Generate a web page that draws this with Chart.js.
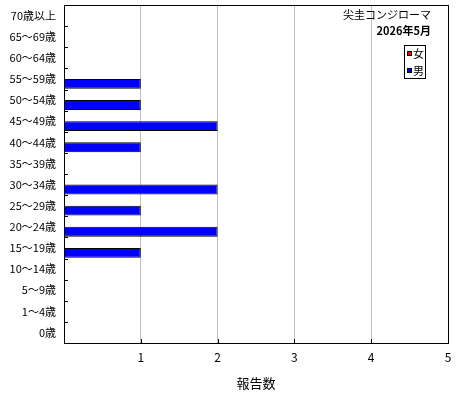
<!DOCTYPE html>
<html>
<head>
<meta charset="utf-8">
<script src="https://cdn.jsdelivr.net/npm/chart.js@4"></script>
<style>
  html, body { margin: 0; padding: 0; background: #fff; }
  #wrap { width: 460px; height: 400px; }
</style>
</head>
<body>
<div id="wrap"><canvas id="myChart"></canvas></div>
<script>
const ageGroups = ['70歳以上', '65～69歳', '60～64歳', '55～59歳', '50～54歳', '45～49歳', '40～44歳',
  '35～39歳', '30～34歳', '25～29歳', '20～24歳', '15～19歳', '10～14歳', '5～9歳', '1～4歳', '0歳'];
const female = [0, 0, 0, 0, 0, 0, 0, 0, 0, 0, 0, 0, 0, 0, 0, 0];
const male = [0, 0, 0, 1, 1, 2, 1, 0, 2, 1, 2, 1, 0, 0, 0, 0];
const xTicks = [1, 2, 3, 4, 5];
const titleLines = ['尖圭コンジローマ', '2026年5月'];

const FONT = '"Noto Sans CJK JP", "Noto Sans", sans-serif';

// frame, inner tick marks, title and boxed legend
const decor = {
  id: 'decor',
  afterDraw(chart) {
    const { ctx, chartArea: a, scales } = chart;
    const y = scales.y, x = scales.x;
    ctx.save();
    ctx.strokeStyle = '#000';
    ctx.lineWidth = 1;
    ctx.beginPath();
    for (let i = 1; i < ageGroups.length; i++) {
      const py = Math.round((y.getPixelForValue(i - 1) + y.getPixelForValue(i)) / 2) + 0.5;
      ctx.moveTo(a.left, py);
      ctx.lineTo(a.left + 4, py);
    }
    xTicks.slice(0, -1).forEach(v => {
      const px = Math.round(x.getPixelForValue(v)) + 0.5;
      ctx.moveTo(px, a.bottom);
      ctx.lineTo(px, a.bottom - 4);
    });
    ctx.stroke();
    ctx.strokeRect(Math.round(a.left) + 0.5, Math.round(a.top) + 0.5,
      Math.round(a.right - a.left), Math.round(a.bottom - a.top));

    // title
    ctx.fillStyle = '#000';
    ctx.textAlign = 'right';
    ctx.textBaseline = 'middle';
    ctx.font = '11px ' + FONT;
    ctx.fillText(titleLines[0], a.right - 17, a.top + 10);
    ctx.font = 'bold 11px ' + FONT;
    ctx.fillText(titleLines[1], a.right - 17, a.top + 26);

    // legend
    const lx = a.right - 44, ly = a.top + 40;
    ctx.fillStyle = '#fff';
    ctx.fillRect(lx, ly, 21, 33);
    ctx.strokeRect(lx + 0.5, ly + 0.5, 21, 33);
    chart.data.datasets.forEach((ds, i) => {
      const cy = ly + 8 + i * 17;
      ctx.fillStyle = ds.backgroundColor;
      ctx.fillRect(lx + 3, cy - 2, 5, 5);
      ctx.strokeRect(lx + 3.5, cy - 1.5, 4, 4);
      ctx.fillStyle = '#000';
      ctx.textAlign = 'left';
      ctx.font = '11px ' + FONT;
      ctx.fillText(ds.label, lx + 9, cy + 1);
    });
    ctx.restore();
  }
};

new Chart(document.getElementById('myChart'), {
  type: 'bar',
  data: {
    labels: ageGroups,
    datasets: [
      { label: '女', data: female, backgroundColor: '#ff0000', borderColor: '#000', borderWidth: 1 },
      { label: '男', data: male, backgroundColor: '#0000ff', borderColor: '#000', borderWidth: 1 }
    ]
  },
  options: {
    indexAxis: 'y',
    responsive: true,
    maintainAspectRatio: false,
    animation: false,
    datasets: { bar: { categoryPercentage: 0.94, barPercentage: 1.0, borderSkipped: false } },
    layout: { padding: { top: 5, right: 12, left: 0, bottom: 0 } },
    plugins: { legend: { display: false }, tooltip: { enabled: false } },
    scales: {
      x: {
        min: 0, max: 5,
        afterFit(s) { s.height = 57; s.paddingLeft = 0; s.paddingRight = 0; },
        afterBuildTicks(s) { s.ticks = xTicks.map(v => ({ value: v })); },
        grid: { color: '#c0c0c0', drawTicks: false, lineWidth: 1 },
        border: { display: false },
        ticks: { color: '#000', padding: 7, font: { family: FONT, size: 12 } },
        title: { display: true, text: '報告数', color: '#000', padding: { top: 4, bottom: 9 }, font: { family: FONT, size: 13 } }
      },
      y: {
        afterFit(s) { s.width = 64; s.paddingTop = 0; s.paddingBottom = 0; },
        grid: { display: false, drawTicks: false },
        border: { display: false },
        ticks: { color: '#000', padding: 8, font: { family: FONT, size: 11 } }
      }
    }
  },
  plugins: [decor]
});
</script>
</body>
</html>
